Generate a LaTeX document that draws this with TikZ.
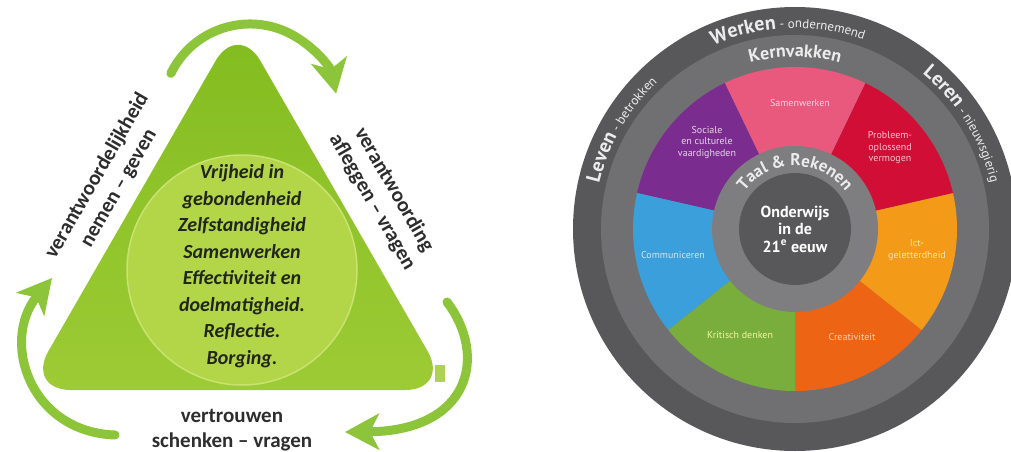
\documentclass[tikz,border=0pt]{standalone}
\usepackage{fontspec}
\setmainfont{Carlito}
\newfontfamily\wheelfont{PT Sans}
\usepackage{xcolor}
\usetikzlibrary{arrows.meta, decorations.text}

\definecolor{tritop}{HTML}{82BC1F}
\definecolor{tribottom}{HTML}{9DCB35}
\definecolor{arrowgreen}{HTML}{8CC43A}
\definecolor{corefill}{HTML}{B3D648}
\definecolor{coreline}{HTML}{C9E272}
\definecolor{textdark}{HTML}{22261A}
\definecolor{labelgray}{HTML}{2D2D2D}
\definecolor{ringdark}{HTML}{58585A}
\definecolor{ringmid}{HTML}{707072}
\definecolor{ringlight}{HTML}{7E7E80}
\definecolor{coredark}{HTML}{58585A}
\definecolor{ringwhite}{HTML}{ECECEC}
\definecolor{segpink}{HTML}{E9587D}
\definecolor{segred}{HTML}{D10F36}
\definecolor{segorange}{HTML}{F39B19}
\definecolor{segdeep}{HTML}{EC6414}
\definecolor{seggreen}{HTML}{79AE3C}
\definecolor{segblue}{HTML}{3A9FDA}
\definecolor{segpurple}{HTML}{7B2C8F}

\begin{document}
\begin{tikzpicture}[x=1pt, y=1pt,
	loop arrow/.style={line width=9pt, draw=arrowgreen, line cap=round, -{Stealth[length=34pt, width=36pt, inset=9pt]}},
	sidelabel/.style={font=\bfseries\fontsize{21}{25}\selectfont, text=labelgray, align=center},
	seglabel/.style={font=\wheelfont\fontsize{10}{11.5}\selectfont, align=center},
	ringtext/.style={decorate, decoration={text along path, text align=center, text color=ringwhite}}
	]
	\def\cx{795}
	\def\cy{222}
	\useasboundingbox (0,0) rectangle (1011,451);

	% triangle
	\begin{scope}
		\shade[top color=tritop, bottom color=tribottom, rounded corners=45pt] (26,61) -- (450,61) -- (238,429) -- cycle;
		\fill[tribottom!85!white] (435,69) rectangle (445,86);
		\node (core) [circle, minimum size=230pt, fill=corefill, draw=coreline, line width=1.5pt] at (242,181) {};
		\node (values) [font=\bfseries\itshape\fontsize{20}{26.5}\selectfont, text=textdark, align=center] at (242,185)
			{Vrijheid in\\gebondenheid\\Zelfstandigheid\\Samenwerken\\Effectiviteit en\\doelmatigheid.\\Reflectie.\\Borging.};
	\end{scope}

	\begin{scope}
		\node (geven) [sidelabel, rotate=60] at (108,269) {verantwoordelijkheid\\nemen -- geven};
		\node (vragen) [sidelabel, rotate=-60] at (383,255) {verantwoording\\afleggen -- vragen};
		\node (schenken) [sidelabel] at (232,21) {vertrouwen\\schenken -- vragen};
	\end{scope}

	\begin{scope}
		\coordinate (topstart) at (170.9,377.6);
		\coordinate (rightstart) at (447,149);
		\coordinate (rightend) at (345,19);
		\coordinate (leftstart) at (115,16);
		\coordinate (leftend) at (52,173);
		\draw[loop arrow] (topstart) arc[start angle=154, end angle=12, radius=88];
		\draw[loop arrow] (rightstart) .. controls (488,95) and (470,20) .. (rightend);
		\draw[loop arrow] (leftstart) .. controls (30,19) and (0,110) .. (leftend);
	\end{scope}

	% wheel
	\begin{scope}[shift={(\cx,\cy)}]
		\fill[ringdark] (0,0) circle (222);
		\fill[ringmid] (0,0) circle (194);
		\foreach \col [count=\i from 0] in {segdeep, segorange, segred, segpink, segpurple, segblue, seggreen}
		{
			\pgfmathsetmacro{\a}{270+\i*360/7}
			\pgfmathsetmacro{\b}{270+(\i+1)*360/7}
			\fill[\col] (0,0) -- (\a:162) arc[start angle=\a, end angle=\b, radius=162] -- cycle;
		}
		\fill[ringlight] (0,0) circle (83);
		\node (centre) [circle, minimum size=112pt, fill=coredark, text=white, font=\wheelfont\bfseries\fontsize{16}{17.5}\selectfont, align=center] at (0,0)
			{Onderwijs\\in de\\21\textsuperscript{e} eeuw};

		\path[ringtext, decoration={text={|\wheelfont\bfseries\fontsize{20}{20}\selectfont|Werken|\wheelfont\mdseries\fontsize{13}{13}\selectfont| - ondernemend}}]
			(142:201) arc[start angle=142, end angle=42, radius=201];
		\path[ringtext, decoration={text={|\wheelfont\bfseries\fontsize{20}{20}\selectfont|Leven|\wheelfont\mdseries\fontsize{13}{13}\selectfont| - betrokken}}]
			(195:201) arc[start angle=195, end angle=105, radius=201];
		\path[ringtext, decoration={text={|\wheelfont\bfseries\fontsize{20}{20}\selectfont|Leren|\wheelfont\mdseries\fontsize{13}{13}\selectfont| - nieuwsgierig}}]
			(77:201) arc[start angle=77, end angle=-13, radius=201];
		\path[ringtext, decoration={text={|\wheelfont\bfseries\fontsize{18}{18}\selectfont|Kernvakken}}]
			(130:172) arc[start angle=130, end angle=50, radius=172];
		\path[ringtext, decoration={text={|\wheelfont\bfseries\fontsize{17}{17}\selectfont|Taal {\&} Rekenen}}]
			(175:63) arc[start angle=175, end angle=5, radius=63];
	\end{scope}

	\begin{scope}
		\node (samen) [seglabel, text=segpink!25!white] at (800,348) {Samenwerken};
		\node (probleem) [seglabel, text=segred!25!white] at (890,303) {Probleem-\\oplossend\\vermogen};
		\node (ict) [seglabel, text=segorange!30!white] at (917,201) {Ict-\\geletterdheid};
		\node (creatief) [seglabel, text=segdeep!30!white] at (852,114) {Creativiteit};
		\node (kritisch) [seglabel, text=seggreen!25!yellow!40!white] at (740,116) {Kritisch denken};
		\node (commun) [seglabel, text=segblue!25!white] at (673,196) {Communiceren};
		\node (sociaal) [seglabel, text=segpurple!20!white] at (707,309) {Sociale\\en culturele\\vaardigheden};
	\end{scope}
\end{tikzpicture}
\end{document}
